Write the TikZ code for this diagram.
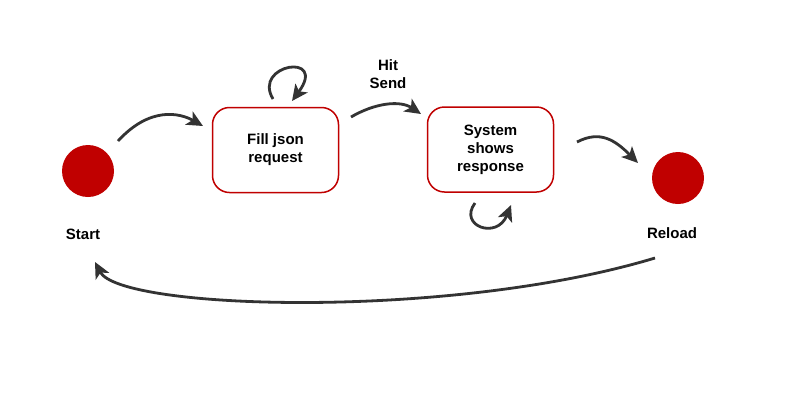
\documentclass[tikz,border=0pt]{standalone}
\usepackage{fontspec}
\setmainfont{Liberation Sans}
\usetikzlibrary{arrows.meta}
\definecolor{stred}{RGB}{192,0,0}
\definecolor{arrgray}{RGB}{51,51,51}
\begin{document}
\begin{tikzpicture}[x=1pt,y=-1pt,
  lbl/.style={font=\bfseries\fontsize{15}{18}\selectfont, align=center, inner sep=0pt},
  statebox/.style={draw=stred, line width=1.5pt, rounded corners=17pt, minimum width=126pt, minimum height=85pt, font=\bfseries\fontsize{15}{18}\selectfont, align=center, fill=white},
  dot/.style={circle, fill=stred, minimum size=52pt, inner sep=0pt},
  conn/.style={draw=arrgray, line width=2.8pt, -{Stealth[length=16pt,width=15pt,inset=4pt]}}]
\useasboundingbox (0,0) rectangle (800,400);
\fill[white] (0,0) rectangle (800,400);
\node[dot] (start) at (88,171) {};
\node[lbl] (startl) at (83,234) {Start};
\node[statebox] (fill) at (275.5,150) {Fill json\\request};
\node[statebox] (sys) at (490.5,149.5) {System\\shows\\response};
\node[lbl] (hit) at (388,74) {Hit\\Send};
\node[dot] (reload) at (678,178) {};
\node[lbl] (reloadl) at (672,233) {Reload};
% connector endpoints
\coordinate (a1) at (118,141); \coordinate (a2) at (203,126);
\coordinate (b1) at (273,99);  \coordinate (b2) at (292,101);
\coordinate (c1) at (351,117); \coordinate (c2) at (421,114);
\coordinate (d1) at (475,203); \coordinate (d2) at (511,205);
\coordinate (e1) at (577,142); \coordinate (e2) at (638,163);
\coordinate (f1) at (655,258); \coordinate (f2) at (95,262);
\draw[conn] (a1) .. controls (150,106) and (180,113) .. (a2);
\draw[conn] (b1) .. controls (252,64) and (328,52) .. (b2);
\draw[conn] (c1) .. controls (375,103) and (400,100) .. (c2);
\draw[conn] (d1) .. controls (458,226) and (497,240) .. (d2);
\draw[conn] (e1) .. controls (600,130) and (615,140) .. (e2);
\draw[conn] (f1) .. controls (450,320) and (120,310) .. (f2);
\end{tikzpicture}
\end{document}
